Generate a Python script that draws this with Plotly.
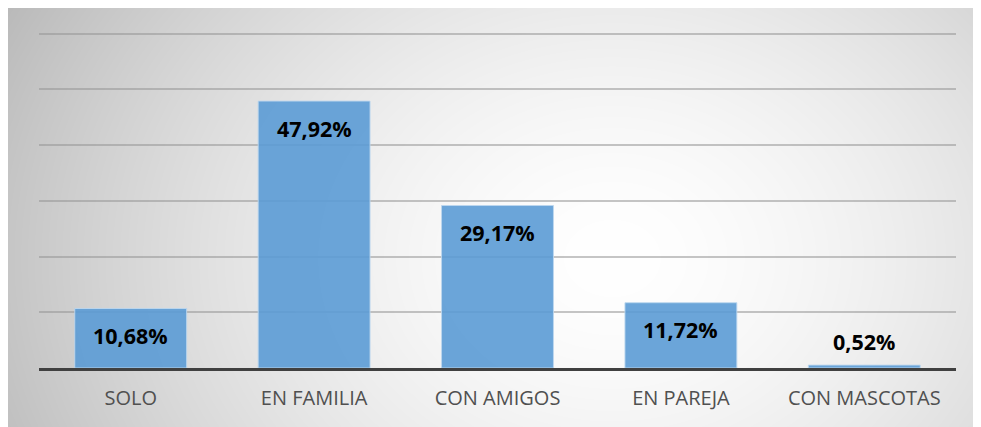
import base64, struct, zlib
import numpy as np
import plotly.graph_objects as go

categories = ["SOLO", "EN FAMILIA", "CON AMIGOS", "EN PAREJA", "CON MASCOTAS"]
values = [10.68, 47.92, 29.17, 11.72, 0.52]
labels = [f"{v:.2f}%".replace(".", ",") for v in values]

# page has an 8px body margin; figure occupies page x 8..981, y 8..427
W, H = 973, 419
L, R, T, B = 31, 25, 23, 59

# radial gradient background as PNG (style only)
iw, ih = W, H
cx, cy = 604, 250
xs = np.arange(iw)[None, :]
ys = np.arange(ih)[:, None]
r = np.sqrt(((xs - cx) / 650.0) ** 2 + ((ys - cy) / 520.0) ** 2)
g = 255 - 64 * np.clip(r, 0, 1.2) ** 1.6
g = np.clip(g, 0, 255).astype(np.uint8)
raw = b"".join(b"\x00" + g[i].tobytes() for i in range(ih))
def chunk(t, d):
    c = struct.pack(">I", len(d)) + t + d
    return c + struct.pack(">I", zlib.crc32(t + d) & 0xffffffff)
png = b"\x89PNG\r\n\x1a\n" + chunk(b"IHDR", struct.pack(">IIBBBBB", iw, ih, 8, 0, 0, 0, 0)) \
    + chunk(b"IDAT", zlib.compress(raw, 9)) + chunk(b"IEND", b"")
src = "data:image/png;base64," + base64.b64encode(png).decode()

pw, ph = W - L - R, H - T - B

fig = go.Figure()
fig.add_trace(go.Bar(
    x=categories, y=values,
    marker=dict(color="rgba(91,155,213,0.9)", line=dict(color="rgba(189,215,238,0.9)", width=1)),
    width=0.61,
    hoverinfo="skip",
))

for c, v, t in zip(categories, values, labels):
    inside = v > 5
    fig.add_annotation(x=c, y=v, text=f"<b>{t}</b>", showarrow=False,
                       yanchor="middle", yshift=-27 if inside else 24,
                       font=dict(family="Open Sans", size=21.5, color="#000000"))

fig.add_layout_image(dict(
    source=src, xref="paper", yref="paper",
    x=-L / pw, y=(H - B) / ph,
    sizex=iw / pw, sizey=ih / ph,
    xanchor="left", yanchor="top", sizing="stretch", layer="below",
))

fig.update_layout(
    width=W, height=H,
    margin=dict(l=L, r=R, t=T, b=B),
    paper_bgcolor="white", plot_bgcolor="rgba(0,0,0,0)",
    showlegend=False,
    font=dict(family="Open Sans"),
)
fig.update_xaxes(showline=True, linecolor="#404040", linewidth=3,
                 ticks="outside", ticklen=10, tickcolor="rgba(0,0,0,0)",
                 tickfont=dict(family="Open Sans", size=20, color="#505050"),
                 showgrid=False)
fig.update_yaxes(range=[0, 60.5], tickvals=[10, 20, 30, 40, 50, 60], showticklabels=False,
                 showgrid=True, gridcolor="rgba(150,150,150,0.55)", gridwidth=1.5,
                 zeroline=False)

fig.write_html("out.html")
